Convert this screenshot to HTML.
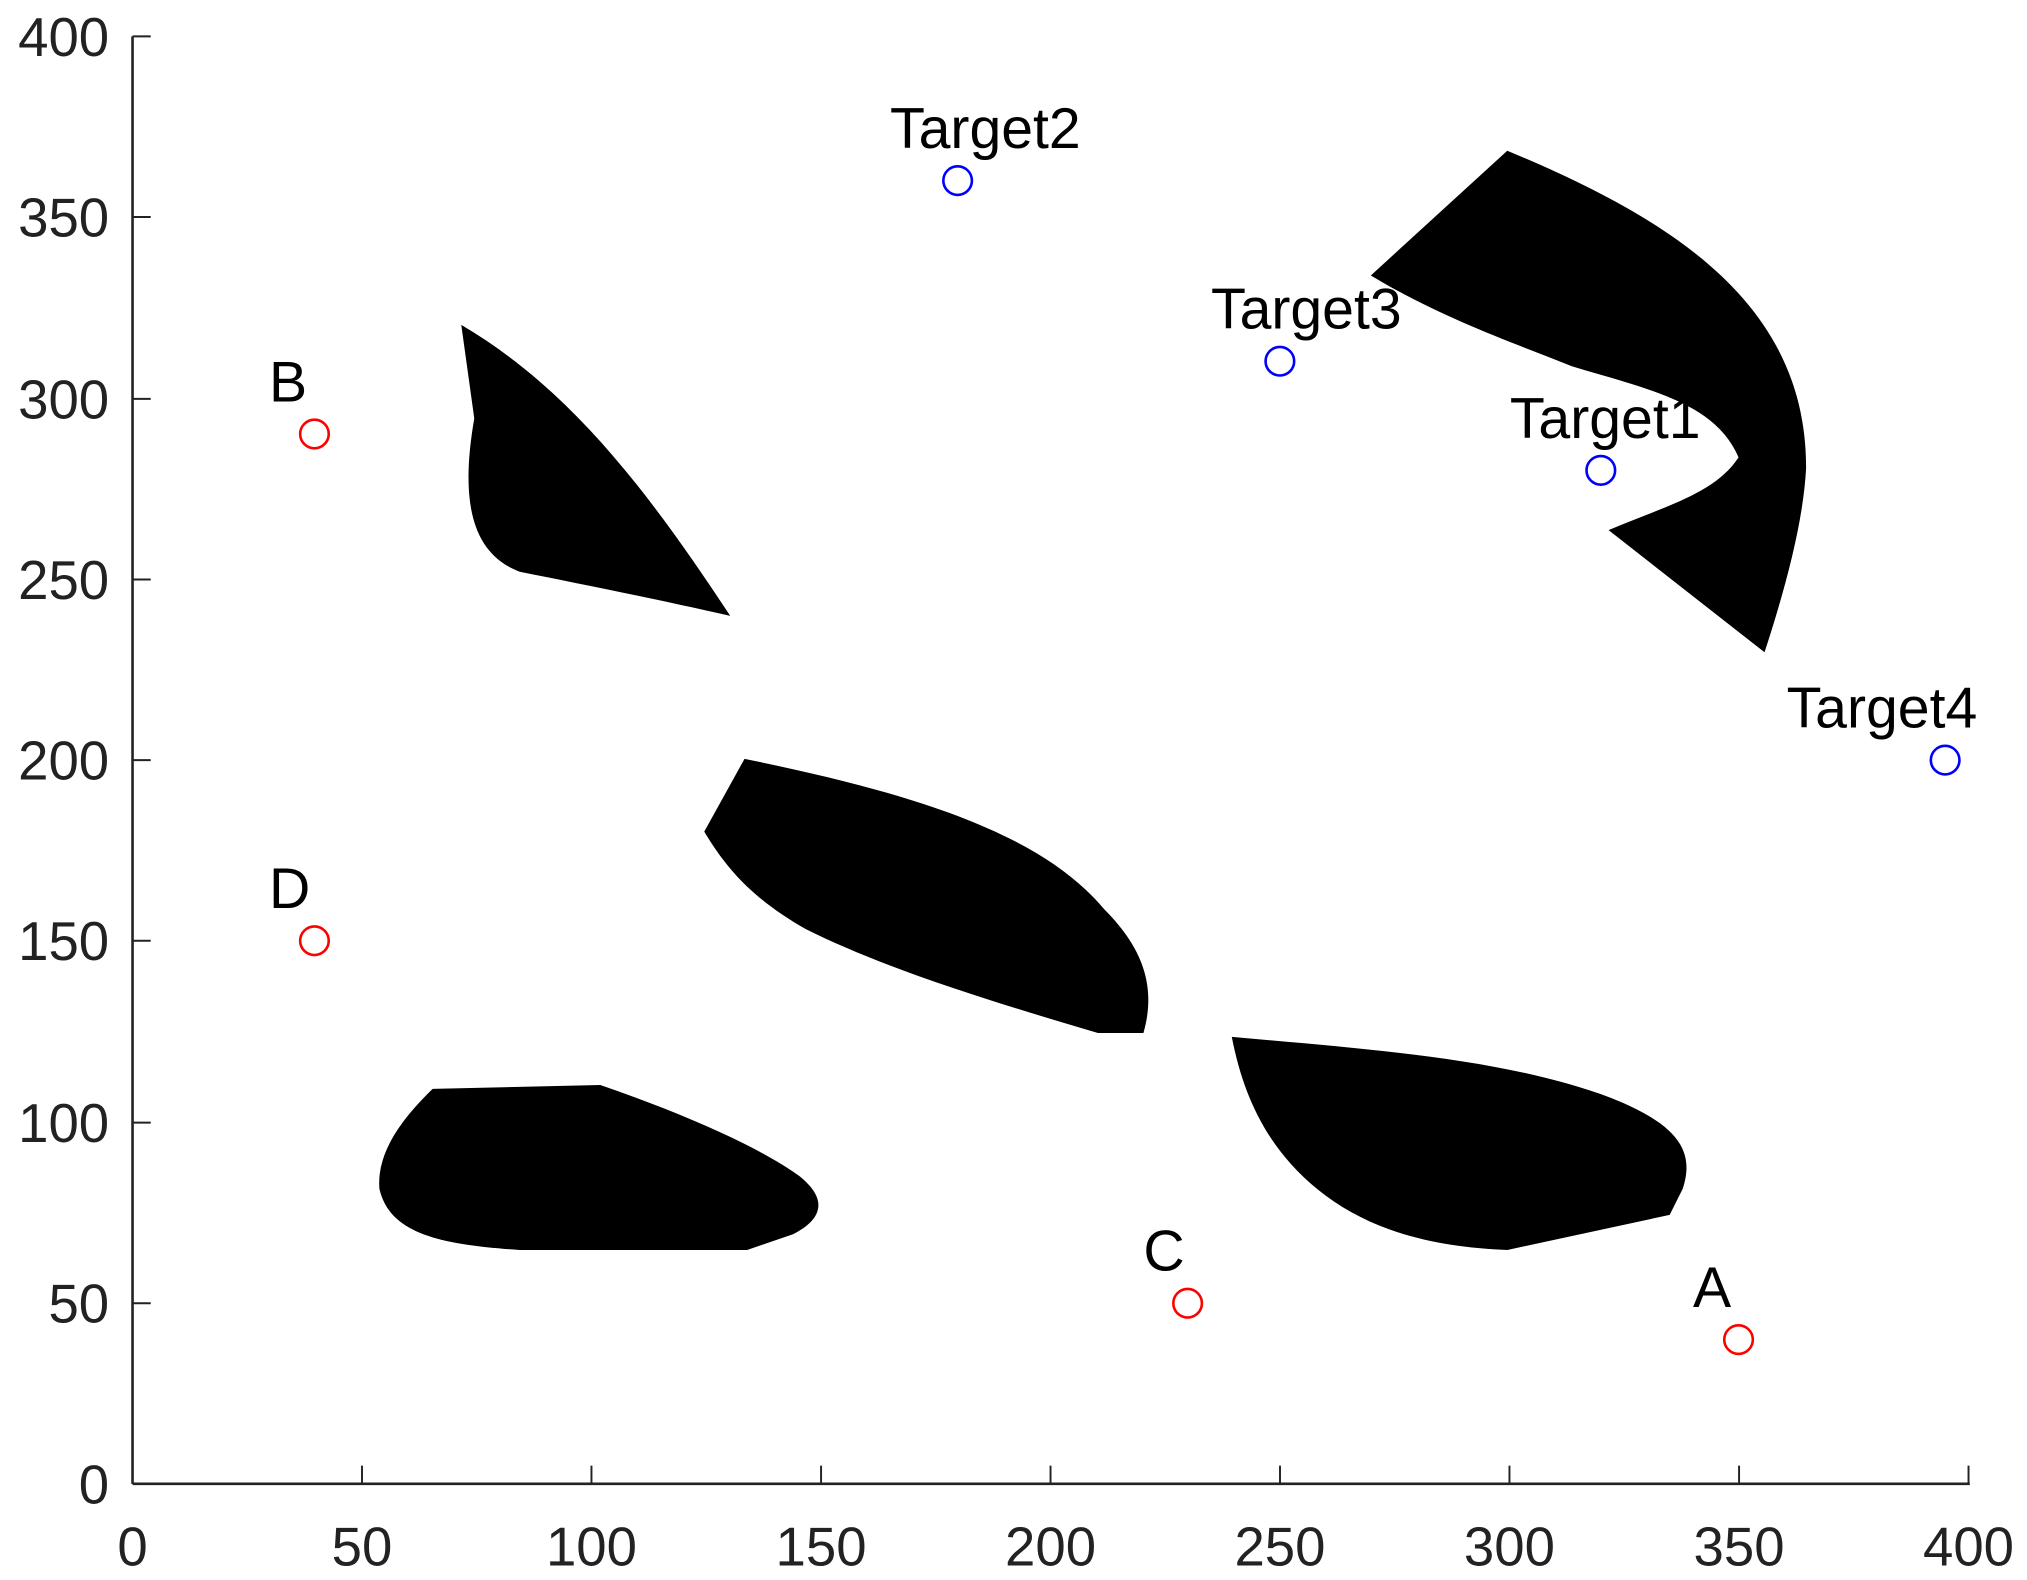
<!DOCTYPE html>
<html><head><meta charset="utf-8"><style>html,body{margin:0;padding:0;background:#fff}svg{display:block}</style></head>
<body>
<svg width="2027" height="1580" viewBox="0 0 1560 1216" preserveAspectRatio="none" xmlns="http://www.w3.org/2000/svg" font-family="Liberation Sans, sans-serif">
<rect width="1560" height="1216" fill="#fff"/>
<g fill="#000">
<path d="M1055,212 L1160,116 C1290,170 1390,235 1390,360 C1388,400 1375,450 1358,502 L1238,408 C1280,390 1320,380 1338,352 C1320,310 1270,300 1210,282 C1160,262 1110,245 1055,212 Z"/>
<path d="M355,250 C440,300 500,380 562,474 C500,460 450,450 400,440 C360,425 355,380 365,322 Z"/>
<path d="M573,584 C700,610 800,640 850,700 C880,730 890,760 880,795 L845,795 C760,770 680,745 620,715 C580,692 560,670 542,640 Z"/>
<path d="M333,838 L462,835 C520,855 580,880 615,905 C640,925 630,940 610,950 L575,962 L400,962 C340,958 300,950 292,915 C290,890 305,865 333,838 Z"/>
<path d="M948,798 C1060,808 1160,815 1240,845 C1290,865 1305,885 1295,915 L1285,935 L1160,962 C1110,960 1060,950 1020,920 C980,890 958,850 948,798 Z"/>
</g>
<g stroke="#222" stroke-width="1.5" fill="none">
<line x1="102" y1="1142" x2="1516" y2="1142" stroke-width="2"/>
<line x1="102" y1="28" x2="102" y2="1142" stroke-width="2"/>
<line x1="278.6" y1="1142" x2="278.6" y2="1128"/><line x1="455.2" y1="1142" x2="455.2" y2="1128"/>
<line x1="631.9" y1="1142" x2="631.9" y2="1128"/><line x1="808.5" y1="1142" x2="808.5" y2="1128"/>
<line x1="985.1" y1="1142" x2="985.1" y2="1128"/><line x1="1161.7" y1="1142" x2="1161.7" y2="1128"/>
<line x1="1338.4" y1="1142" x2="1338.4" y2="1128"/><line x1="1515" y1="1142" x2="1515" y2="1128"/>
<line x1="102" y1="1003" x2="116" y2="1003"/><line x1="102" y1="864" x2="116" y2="864"/>
<line x1="102" y1="724" x2="116" y2="724"/><line x1="102" y1="585" x2="116" y2="585"/>
<line x1="102" y1="446" x2="116" y2="446"/><line x1="102" y1="307" x2="116" y2="307"/>
<line x1="102" y1="167" x2="116" y2="167"/><line x1="102" y1="28" x2="116" y2="28"/>
</g>
<g font-size="42" fill="#222" text-anchor="middle">
<text x="102" y="1205">0</text><text x="278.6" y="1205">50</text><text x="455.2" y="1205">100</text>
<text x="631.9" y="1205">150</text><text x="808.5" y="1205">200</text><text x="985.1" y="1205">250</text>
<text x="1161.7" y="1205">300</text><text x="1338.4" y="1205">350</text><text x="1515" y="1205">400</text>
</g>
<g font-size="42" fill="#222" text-anchor="end">
<text x="84" y="1157">0</text><text x="84" y="1018">50</text><text x="84" y="879">100</text>
<text x="84" y="739">150</text><text x="84" y="600">200</text><text x="84" y="461">250</text>
<text x="84" y="322">300</text><text x="84" y="182">350</text><text x="84" y="43">400</text>
</g>
<g fill="none" stroke-width="2">
<circle cx="737" cy="139" r="11" stroke="#00f"/>
<circle cx="985" cy="278" r="11" stroke="#00f"/>
<circle cx="1232" cy="362" r="11" stroke="#00f"/>
<circle cx="1497" cy="585" r="11" stroke="#00f"/>
<circle cx="242" cy="334" r="11" stroke="#f00"/>
<circle cx="242" cy="724" r="11" stroke="#f00"/>
<circle cx="914" cy="1003" r="11" stroke="#f00"/>
<circle cx="1338" cy="1031" r="11" stroke="#f00"/>
</g>
<g font-size="44" fill="#000">
<text x="685" y="114">Target2</text>
<text x="932" y="253">Target3</text>
<text x="1162" y="337">Target1</text>
<text x="1375" y="560">Target4</text>
<text x="207" y="309">B</text>
<text x="207" y="699">D</text>
<text x="880" y="978">C</text>
<text x="1303" y="1006">A</text>
</g>
</svg>
</body></html>
